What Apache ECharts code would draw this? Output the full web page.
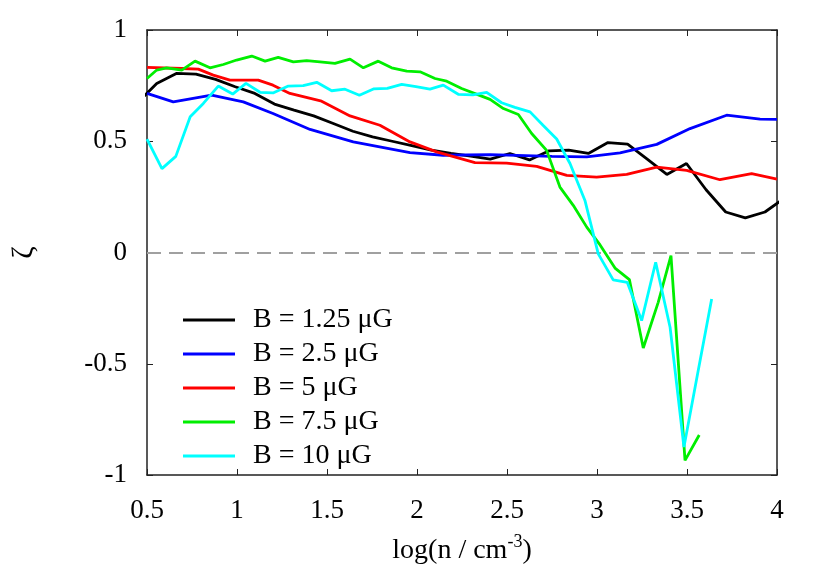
<!DOCTYPE html>
<html>
<head>
<meta charset="utf-8">
<script src="https://cdn.jsdelivr.net/npm/echarts@6/dist/echarts.min.js"></script>
<style>html,body{margin:0;padding:0;background:#fff;}#c{width:830px;height:581px;}</style>
</head>
<body>
<div id="c"></div>
<script>
// ---- data ----
const seriesNames = ['B = 1.25 μG', 'B = 2.5 μG', 'B = 5 μG', 'B = 7.5 μG', 'B = 10 μG'];
const seriesColors = ['#000000', '#0000ff', '#ff0000', '#00ee00', '#00ffff'];

const b125X = [0.445,0.554,0.663,0.772,0.881,0.990,1.099,1.208,1.317,1.426,1.535,1.644,1.753,1.862,1.971,2.080,2.189,2.298,2.407,2.516,2.625,2.734,2.843,2.952,3.061,3.170,3.279,3.388,3.497,3.606,3.715,3.824,3.933,4.042];
const b125Y = [0.67,0.76,0.805,0.802,0.778,0.745,0.715,0.667,0.64,0.614,0.58,0.545,0.52,0.5,0.48,0.46,0.445,0.433,0.42,0.445,0.416,0.457,0.46,0.445,0.494,0.487,0.42,0.351,0.4,0.282,0.182,0.156,0.182,0.245];

const b25X = [0.5,0.646,0.859,1.035,1.2,1.406,1.646,1.961,2.146,2.406,2.75,2.943,3.128,3.332,3.517,3.72,3.906,4.0];
const b25Y = [0.715,0.677,0.707,0.677,0.625,0.553,0.497,0.449,0.437,0.44,0.432,0.43,0.448,0.486,0.557,0.617,0.599,0.598];

const b5X = [0.5,0.693,0.785,0.868,0.961,1.118,1.2,1.294,1.47,1.628,1.794,1.961,2.109,2.322,2.498,2.665,2.832,2.998,3.165,3.332,3.498,3.683,3.859,4.0];
const b5Y = [0.832,0.827,0.824,0.797,0.775,0.775,0.752,0.715,0.68,0.614,0.572,0.497,0.452,0.404,0.402,0.387,0.347,0.339,0.351,0.384,0.369,0.327,0.354,0.33];

const b75X = [0.5,0.554,0.609,0.693,0.767,0.85,0.924,0.998,1.082,1.156,1.229,1.313,1.387,1.461,1.544,1.628,1.702,1.785,1.859,1.943,2.017,2.1,2.165,2.248,2.33,2.406,2.48,2.563,2.637,2.72,2.794,2.868,2.943,3.017,3.1,3.18,3.257,3.34,3.411,3.489,3.568];
const b75Y = [0.782,0.82,0.83,0.82,0.86,0.83,0.845,0.865,0.883,0.86,0.877,0.857,0.862,0.857,0.85,0.869,0.83,0.86,0.83,0.815,0.812,0.782,0.77,0.737,0.712,0.688,0.647,0.62,0.535,0.459,0.294,0.212,0.114,0.034,-0.07,-0.122,-0.429,-0.224,-0.014,-0.934,-0.82];

const b10X = [0.5,0.583,0.66,0.74,0.813,0.896,0.976,1.05,1.128,1.2,1.285,1.368,1.443,1.526,1.6,1.68,1.758,1.835,1.915,1.994,2.072,2.146,2.229,2.31,2.387,2.47,2.544,2.628,2.7,2.776,2.85,2.933,3.007,3.09,3.168,3.248,3.326,3.406,3.483,3.56,3.637];
const b10Y = [0.51,0.377,0.432,0.61,0.67,0.748,0.712,0.76,0.72,0.717,0.748,0.75,0.765,0.727,0.734,0.707,0.735,0.738,0.756,0.746,0.734,0.752,0.711,0.708,0.72,0.673,0.652,0.632,0.572,0.51,0.4,0.234,-0.006,-0.123,-0.134,-0.306,-0.044,-0.336,-0.874,-0.54,-0.209];

const xTicks = [0.5, 1, 1.5, 2, 2.5, 3, 3.5, 4];
const yTicks = [-1, -0.5, 0, 0.5, 1];

// ---- chart ----
const FONT = "'Liberation Serif','Times New Roman',serif";
const xs = [b125X, b25X, b5X, b75X, b10X];
const ys = [b125Y, b25Y, b5Y, b75Y, b10Y];
const zip = (a, b) => a.map((v, i) => [v, b[i]]);

const chart = echarts.init(document.getElementById('c'), null, {renderer: 'canvas'});

const series = seriesNames.map((name, k) => ({
  name: name,
  type: 'line',
  xAxisIndex: 0,
  yAxisIndex: 0,
  data: zip(xs[k], ys[k]),
  symbol: 'none',
  showSymbol: false,
  clip: true,
  lineStyle: {color: seriesColors[k], width: 2.8},
  itemStyle: {color: seriesColors[k]},
  z: 3 + k
}));
series[0].markLine = {
  silent: true,
  symbol: 'none',
  label: {show: false},
  lineStyle: {color: '#a0a0a0', type: [14, 8], width: 2},
  data: [{yAxis: 0}],
  z: 1
};

const axisCommon = {
  type: 'value',
  axisLine: {show: true, onZero: false, lineStyle: {color: '#222', width: 1.5}},
  axisTick: {show: true, inside: true, length: 6, lineStyle: {color: '#222', width: 1}},
  splitLine: {show: false}
};

chart.setOption({
  animation: false,
  backgroundColor: '#fff',
  grid: {left: 147, right: 53, top: 30, bottom: 106, containLabel: false, outerBoundsMode: 'none'},
  legend: {
    show: true,
    orient: 'vertical',
    left: 183,
    top: 306,
    padding: 0,
    itemWidth: 52,
    itemHeight: 12,
    itemGap: 6,
    icon: 'path://M0,0 L52,0 L52,3 L0,3 Z',
    textStyle: {fontFamily: FONT, fontSize: 28, color: '#000', lineHeight: 27, padding: [0, 0, 0, 13]},
    data: seriesNames
  },
  xAxis: [
    Object.assign({}, axisCommon, {
      position: 'bottom', min: 0.5, max: 4, interval: 0.5,
      axisLabel: {show: true, margin: 22, fontFamily: FONT, fontSize: 27, color: '#000',
        formatter: v => (xTicks.includes(v) ? String(v) : '')},
      name: '{a|log(n / cm}{s|-3}{a|)}',
      nameLocation: 'middle',
      nameGap: 58,
      nameTextStyle: {rich: {
        a: {fontFamily: FONT, fontSize: 28, color: '#000', verticalAlign: 'bottom'},
        s: {fontFamily: FONT, fontSize: 18, color: '#000', verticalAlign: 'top', padding: [0, 0, 14, 0]}
      }}
    }),
    Object.assign({}, axisCommon, {
      position: 'top', min: 0.5, max: 4, interval: 0.5,
      axisLabel: {show: false}
    })
  ],
  yAxis: [
    Object.assign({}, axisCommon, {
      position: 'left', min: -1, max: 1, interval: 0.5,
      axisLabel: {show: true, margin: 20, fontFamily: FONT, fontSize: 27, color: '#000',
        formatter: v => (yTicks.includes(v) ? String(v) : '')},
      name: 'ζ',
      nameLocation: 'middle',
      nameRotate: 90,
      nameGap: 108,
      nameTextStyle: {fontFamily: FONT, fontSize: 30, color: '#000'}
    }),
    Object.assign({}, axisCommon, {
      position: 'right', min: -1, max: 1, interval: 0.5,
      axisLabel: {show: false}
    })
  ],
  series: series
});
</script>
</body>
</html>
